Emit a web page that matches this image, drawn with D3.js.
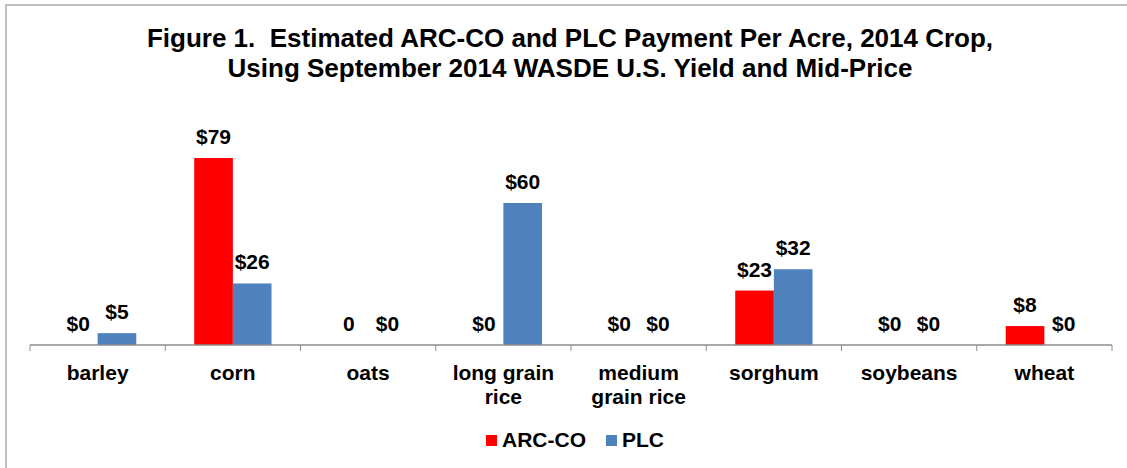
<!DOCTYPE html>
<html>
<head>
<meta charset="utf-8">
<script src="https://cdn.jsdelivr.net/npm/d3@7"></script>
<style>
  body { margin: 0; background: #fff; }
  text { font-family: 'Liberation Sans', Arial, sans-serif; font-weight: bold; fill: #000; white-space: pre; }
</style>
</head>
<body>
<div id="chart"></div>
<script>
// Data
const crops = ['barley', 'corn', 'oats', 'long grain rice', 'medium grain rice', 'sorghum', 'soybeans', 'wheat']
const cropLines = [['barley'], ['corn'], ['oats'], ['long grain', 'rice'], ['medium', 'grain rice'], ['sorghum'], ['soybeans'], ['wheat']]
const arcValues = [0, 79, 0, 0, 0, 23, 0, 8]
const plcValues = [5, 26, 0, 60, 0, 32, 0, 0]
const arcLabels = ['$0', '$79', '0', '$0', '$0', '$23', '$0', '$8']
const plcLabels = ['$5', '$26', '$0', '$60', '$0', '$32', '$0', '$0']
const seriesNames = ['ARC-CO', 'PLC']
const seriesColors = ['#ff0000', '#4f81bd']
const titleLines = ['Figure 1.  Estimated ARC-CO and PLC Payment Per Acre, 2014 Crop,', 'Using September 2014 WASDE U.S. Yield and Mid-Price']

const width = 1127
const height = 468
const margin = { top: 158, right: 15, bottom: 123, left: 30 }
const plotW = width - margin.left - margin.right
const plotH = height - margin.top - margin.bottom

const svg = d3.select('#chart').append('svg')
  .attr('width', width)
  .attr('height', height)

// Chart border (only top and left edges are visible)
svg.append('rect')
  .attr('x', 6).attr('y', 5)
  .attr('width', width + 20).attr('height', height + 20)
  .attr('fill', 'none')
  .attr('stroke', '#c0c0c0')
  .attr('stroke-width', 2)

// Title
svg.append('text')
  .attr('text-anchor', 'middle')
  .style('font-size', '26px')
  .selectAll('tspan')
  .data(titleLines)
  .join('tspan')
  .attr('x', 570)
  .attr('y', (d, i) => 47 + i * 30)
  .text(d => d)

// Scales
const x0 = d3.scaleBand().domain(crops).range([0, plotW]).paddingInner(0).paddingOuter(0)
const x1 = d3.scaleBand().domain(seriesNames).range([0, x0.bandwidth()]).paddingInner(0).paddingOuter(0.75)
const y = d3.scaleLinear().domain([0, 79]).range([plotH, 0])

const g = svg.append('g').attr('transform', `translate(${margin.left},${margin.top})`)

const rows = crops.map((c, i) => ({
  crop: c,
  values: [
    { series: seriesNames[0], value: arcValues[i], label: arcLabels[i] },
    { series: seriesNames[1], value: plcValues[i], label: plcLabels[i] }
  ]
}))

const groups = g.selectAll('.crop')
  .data(rows)
  .join('g')
  .attr('class', 'crop')
  .attr('transform', d => `translate(${x0(d.crop)},0)`)

// Bars
groups.selectAll('rect')
  .data(d => d.values)
  .join('rect')
  .attr('x', d => x1(d.series))
  .attr('y', d => y(d.value))
  .attr('width', x1.bandwidth())
  .attr('height', d => plotH - y(d.value))
  .attr('fill', (d, i) => seriesColors[i])

// Value labels above each bar
groups.selectAll('.lbl')
  .data(d => d.values)
  .join('text')
  .attr('class', 'lbl')
  .attr('x', d => x1(d.series) + x1.bandwidth() / 2)
  .attr('y', d => y(d.value) - 14)
  .attr('text-anchor', 'middle')
  .style('font-size', '21px')
  .text(d => d.label)

// Category axis
const axis = g.append('g')
  .attr('transform', `translate(0,${plotH})`)
axis.append('line')
  .attr('x1', 0).attr('x2', plotW)
  .attr('stroke', '#8c8c8c').attr('stroke-width', 1.5)
axis.selectAll('.tick')
  .data(d3.range(crops.length + 1))
  .join('line')
  .attr('class', 'tick')
  .attr('x1', i => i * x0.step()).attr('x2', i => i * x0.step())
  .attr('y1', 0).attr('y2', 6)
  .attr('stroke', '#8c8c8c')
axis.selectAll('.cat')
  .data(cropLines)
  .join('text')
  .attr('class', 'cat')
  .attr('text-anchor', 'middle')
  .style('font-size', '21px')
  .each(function (lines, i) {
    d3.select(this).selectAll('tspan')
      .data(lines)
      .join('tspan')
      .attr('x', x0(crops[i]) + x0.bandwidth() / 2)
      .attr('y', (d, j) => 35 + j * 24)
      .text(d => d)
  })

// Legend
const legend = svg.append('g').attr('transform', 'translate(486,435)')
const legendX = [0, 120]
seriesNames.forEach((name, i) => {
  legend.append('rect')
    .attr('x', legendX[i]).attr('y', 0)
    .attr('width', 11).attr('height', 11)
    .attr('fill', seriesColors[i])
  legend.append('text')
    .attr('x', legendX[i] + 16).attr('y', 12)
    .style('font-size', '21px')
    .text(name)
})
</script>
</body>
</html>
